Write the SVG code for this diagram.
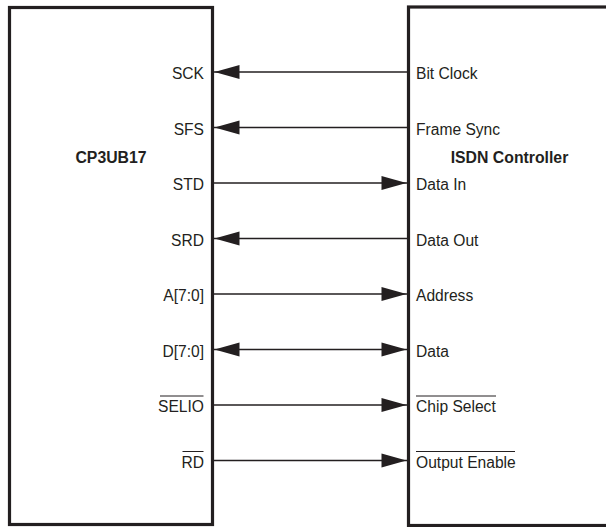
<svg xmlns="http://www.w3.org/2000/svg" width="606" height="527" viewBox="0 0 606 527">
<style>
.box{fill:#fff;stroke:#231f20;stroke-width:3.2}
.w{stroke:#231f20;stroke-width:1.3;fill:none}
.ah{fill:#231f20}
.t{font-family:"Liberation Sans",Arial,sans-serif;font-size:15.6px;fill:#231f20}
.b{font-family:"Liberation Sans",Arial,sans-serif;font-size:15.8px;font-weight:bold;fill:#231f20}
.ol{stroke:#231f20;stroke-width:1}
</style>
<defs>
<path id="al" d="M0,0 L25,-7 L25,7 Z" class="ah"/>
<path id="ar" d="M0,0 L-25,-7 L-25,7 Z" class="ah"/>
</defs>
<rect width="606" height="527" fill="#fff"/>
<g id="cp3ub17">
<rect class="box" x="9.5" y="7.5" width="203" height="517"/>
<text class="b" x="111" y="162.5" text-anchor="middle">CP3UB17</text>
<g class="t" text-anchor="end">
<text x="204" y="79">SCK</text>
<text x="204" y="134.5">SFS</text>
<text x="204" y="190">STD</text>
<text x="204" y="245.5">SRD</text>
<text x="204" y="301">A[7:0]</text>
<text x="204" y="356.5">D[7:0]</text>
<text x="204" y="412">SELIO</text>
<text x="204" y="467.5">RD</text>
</g>
<line class="ol" x1="160" y1="396" x2="203.5" y2="396"/>
<line class="ol" x1="182.5" y1="451.5" x2="203.5" y2="451.5"/>
</g>
<g id="isdn">
<rect class="box" x="408.5" y="7" width="220" height="518.5"/>
<text class="b" x="509.5" y="162.5" text-anchor="middle">ISDN Controller</text>
<g class="t">
<text x="416" y="79">Bit Clock</text>
<text x="416" y="134.5">Frame Sync</text>
<text x="416" y="190">Data In</text>
<text x="416" y="245.5">Data Out</text>
<text x="416" y="301">Address</text>
<text x="416" y="356.5">Data</text>
<text x="416" y="412">Chip Select</text>
<text x="416" y="467.5">Output Enable</text>
</g>
<line class="ol" x1="416" y1="396" x2="496" y2="396"/>
<line class="ol" x1="416" y1="451.5" x2="515" y2="451.5"/>
</g>
<g id="connectors">
<line class="w" x1="214" y1="72" x2="407" y2="72"/>
<use href="#al" x="214.5" y="72"/>
<line class="w" x1="214" y1="127.5" x2="407" y2="127.5"/>
<use href="#al" x="214.5" y="127.5"/>
<line class="w" x1="214" y1="183" x2="407" y2="183"/>
<use href="#ar" x="406.5" y="183"/>
<line class="w" x1="214" y1="238.5" x2="407" y2="238.5"/>
<use href="#al" x="214.5" y="238.5"/>
<line class="w" x1="214" y1="294" x2="407" y2="294"/>
<use href="#ar" x="406.5" y="294"/>
<line class="w" x1="214" y1="349.5" x2="407" y2="349.5"/>
<use href="#al" x="214.5" y="349.5"/>
<use href="#ar" x="406.5" y="349.5"/>
<line class="w" x1="214" y1="405" x2="407" y2="405"/>
<use href="#ar" x="406.5" y="405"/>
<line class="w" x1="214" y1="460.5" x2="407" y2="460.5"/>
<use href="#ar" x="406.5" y="460.5"/>
</g>
</svg>
